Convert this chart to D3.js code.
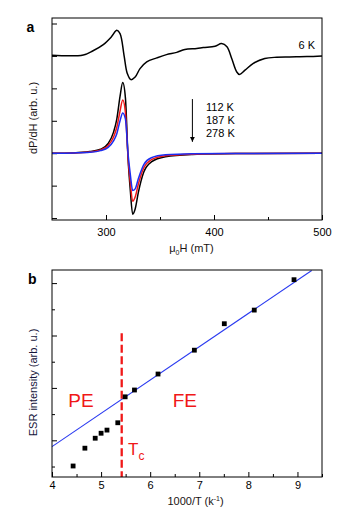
<!DOCTYPE html>
<html>
<head>
<meta charset="utf-8">
<script src="https://cdn.jsdelivr.net/npm/d3@7"></script>
<style>
  body { margin: 0; background: #fff; }
  text { font-family: "Liberation Sans", Arial, sans-serif; }
</style>
</head>
<body>
<div id="root"></div>
<script>
// panel a: 6 K spectrum
var field6 = [250, 279, 288, 297.5, 305, 310, 313, 316.7, 319.7, 323, 327, 331.5, 337.7, 347, 356, 365.5,
    373, 384, 390, 401, 407, 412, 416.4, 421, 423.5, 428.7, 436.4, 447, 458, 470, 486, 500];
var signal6 = [5.02, 5.03, 5.16, 5.35, 5.59, 5.79, 5.69, 5.02, 4.46, 4.27, 4.35, 4.61, 4.82, 4.94, 5.04, 5.11,
    5.20, 5.23, 5.26, 5.30, 5.38, 5.28, 4.92, 4.51, 4.43, 4.56, 4.77, 4.92, 4.96, 4.97, 4.98, 5.00];

// panel a: high temperature spectra
var fieldT = [250, 270, 285, 295, 302, 307, 310, 313, 315.5, 318, 320.5, 322.5, 324.7, 327, 330, 335, 342, 355, 380, 420, 500];
var sig112 = [2.00, 2.01, 2.05, 2.12, 2.30, 2.65, 3.05, 3.75, 4.18, 3.70, 1.79, 0.86, 0.12, 0.28, 0.80, 1.42, 1.73, 1.89, 1.96, 1.99, 2.00];
var sig187 = [2.00, 2.01, 2.04, 2.10, 2.24, 2.50, 2.80, 3.30, 3.64, 3.25, 1.82, 1.10, 0.52, 0.65, 1.05, 1.55, 1.80, 1.92, 1.97, 1.99, 2.00];
var sig278 = [2.00, 2.01, 2.03, 2.08, 2.18, 2.38, 2.60, 3.00, 3.24, 3.05, 1.95, 1.35, 0.85, 0.90, 1.22, 1.65, 1.86, 1.95, 1.98, 1.99, 2.00];
var tempLabels = ["112 K", "187 K", "278 K"];
var tempColors = ["#000000", "#f01818", "#1c2cf0"];
var hTicks = [300, 400, 500];
var hMinor = [350, 450];

// panel b: ESR intensity vs 1000/T
var invT = [4.43, 4.67, 4.88, 5.0, 5.12, 5.34, 5.49, 5.68, 6.16, 6.9, 7.51, 8.12, 8.93];
var esr = [1.02, 1.70, 2.08, 2.27, 2.39, 2.67, 3.66, 3.92, 4.53, 5.44, 6.45, 6.97, 8.13];
var fitX = [4, 9.29];
var fitY = [1.76, 8.48];
var tcX = 5.42, tcTop = 6.09;
var invTicks = [4, 5, 6, 7, 8, 9];
var invMinor = [4.5, 5.5, 6.5, 7.5, 8.5, 9.5];

var svg = d3.select("#root")
    .append("svg")
    .attr("width", 351)
    .attr("height", 520);

var left = 52, right = 322;
var red = "#f01818";

// ---------- panel a ----------
var xa = d3.scaleLinear().domain([250, 500]).range([left, right]);
var ya = d3.scaleLinear().domain([-0.06, 6.17]).range([220, 18]);

svg.append("g")
    .attr("transform", "translate(0,220)")
    .call(d3.axisBottom(xa).tickValues(hTicks).tickSizeInner(-5).tickSizeOuter(0).tickPadding(7.7))
    .call(function (g) { g.select(".domain").remove(); })
    .selectAll("text").attr("font-size", 11).attr("font-family", null);

svg.append("g")
    .attr("transform", "translate(0,220)")
    .call(d3.axisBottom(xa).tickValues(hMinor).tickSizeInner(-3).tickSizeOuter(0).tickFormat(""))
    .call(function (g) { g.select(".domain").remove(); });

svg.append("g")
    .attr("transform", "translate(" + left + ",0)")
    .call(d3.axisLeft(ya).tickValues([0, 1, 2, 3, 4, 5, 6]).tickSizeInner(-5).tickSizeOuter(0).tickFormat(""))
    .call(function (g) { g.select(".domain").remove(); });

var lineA = d3.line()
    .x(function (d) { return xa(d[0]); })
    .y(function (d) { return ya(d[1]); })
    .curve(d3.curveMonotoneX);

svg.append("path")
    .attr("d", lineA.curve(d3.curveCatmullRom)(field6.map(function (h, i) { return [h, signal6[i]]; })))
    .attr("fill", "none")
    .attr("stroke", "#000")
    .attr("stroke-width", 1.5);

lineA.curve(d3.curveMonotoneX);
[sig112, sig187, sig278].forEach(function (s, k) {
    svg.append("path")
        .attr("d", lineA(fieldT.map(function (h, i) { return [h, s[i]]; })))
        .attr("fill", "none")
        .attr("stroke", tempColors[k])
        .attr("stroke-width", 1.5);
});

svg.append("rect")
    .attr("x", left).attr("y", 18)
    .attr("width", right - left).attr("height", 202)
    .attr("fill", "none").attr("stroke", "#000").attr("stroke-width", 1);

svg.append("text")
    .attr("x", xa(486)).attr("y", 48.7)
    .attr("font-size", 11).attr("text-anchor", "middle")
    .text("6 K");

// arrow
svg.append("defs").append("marker")
    .attr("id", "arr")
    .attr("viewBox", "0 0 10 10")
    .attr("refX", 10).attr("refY", 5)
    .attr("markerWidth", 5).attr("markerHeight", 6)
    .attr("markerUnits", "userSpaceOnUse")
    .attr("orient", "auto")
    .append("path").attr("d", "M0,0L10,5L0,10Z").attr("fill", "#000");

svg.append("line")
    .attr("x1", xa(380)).attr("x2", xa(380))
    .attr("y1", ya(3.67)).attr("y2", ya(2.35))
    .attr("stroke", "#000").attr("stroke-width", 1)
    .attr("marker-end", "url(#arr)");

svg.append("g").selectAll("text")
    .data(tempLabels)
    .enter().append("text")
    .attr("x", 206)
    .attr("y", function (d, i) { return 111 + i * 13; })
    .attr("font-size", 11)
    .text(function (d) { return d; });

var ta = svg.append("text")
    .attr("x", 191.5).attr("y", 252.3)
    .attr("font-size", 11).attr("text-anchor", "middle").attr("fill", "#1a1414");
ta.append("tspan").text("μ");
ta.append("tspan").attr("font-size", 7).attr("dy", 2.5).text("0");
ta.append("tspan").attr("dy", -2.5).text("H (mT)");

svg.append("text")
    .attr("transform", "translate(36.5,118) rotate(-90)")
    .attr("font-size", 11).attr("text-anchor", "middle").attr("fill", "#1a1414")
    .text("dP/dH (arb. u.)");

svg.append("text")
    .attr("x", 26.5).attr("y", 31.7)
    .attr("font-size", 14).attr("font-weight", "bold")
    .text("a");

// ---------- panel b ----------
var xb = d3.scaleLinear().domain([4, 9.5]).range([left, right]);
var yb = d3.scaleLinear().domain([0.6, 8.5]).range([477, 270]);

svg.append("g")
    .attr("transform", "translate(0,477)")
    .call(d3.axisBottom(xb).tickValues(invTicks).tickFormat(d3.format("d")).tickSizeInner(-5).tickSizeOuter(0).tickPadding(3.7))
    .call(function (g) { g.select(".domain").remove(); })
    .selectAll("text").attr("font-size", 11).attr("font-family", null);

svg.append("g")
    .attr("transform", "translate(0,477)")
    .call(d3.axisBottom(xb).tickValues(invMinor).tickSizeInner(-3).tickSizeOuter(0).tickFormat(""))
    .call(function (g) { g.select(".domain").remove(); });

svg.append("g")
    .attr("transform", "translate(" + left + ",0)")
    .call(d3.axisLeft(yb).tickValues([2, 4, 6, 8]).tickSizeInner(-5).tickSizeOuter(0).tickFormat(""))
    .call(function (g) { g.select(".domain").remove(); });

svg.append("g")
    .attr("transform", "translate(" + left + ",0)")
    .call(d3.axisLeft(yb).tickValues([1, 3, 5, 7]).tickSizeInner(-3).tickSizeOuter(0).tickFormat(""))
    .call(function (g) { g.select(".domain").remove(); });

svg.append("line")
    .attr("x1", xb(fitX[0])).attr("y1", yb(fitY[0]))
    .attr("x2", xb(fitX[1])).attr("y2", yb(fitY[1]))
    .attr("stroke", "#2a3af0").attr("stroke-width", 1.1);

svg.append("line")
    .attr("x1", xb(tcX)).attr("x2", xb(tcX))
    .attr("y1", yb(tcTop)).attr("y2", 477)
    .attr("stroke", red).attr("stroke-width", 2.3)
    .attr("stroke-dasharray", "8,3.5");

svg.append("g").selectAll("rect")
    .data(invT)
    .enter().append("rect")
    .attr("x", function (d) { return xb(d) - 2.4; })
    .attr("y", function (d, i) { return yb(esr[i]) - 2.4; })
    .attr("width", 4.8)
    .attr("height", 4.8)
    .attr("fill", "#000");

svg.append("rect")
    .attr("x", left).attr("y", 270)
    .attr("width", right - left).attr("height", 207)
    .attr("fill", "none").attr("stroke", "#000").attr("stroke-width", 1);

svg.append("text")
    .attr("x", 68.3).attr("y", 407.3)
    .attr("font-size", 19).attr("fill", red)
    .text("PE");

svg.append("text")
    .attr("x", 172.7).attr("y", 407.3)
    .attr("font-size", 19).attr("fill", red)
    .text("FE");

var tc = svg.append("text")
    .attr("x", 128).attr("y", 455)
    .attr("font-size", 17).attr("fill", red);
tc.append("tspan").text("T");
tc.append("tspan").attr("font-size", 12).attr("dy", 5).text("c");

var tb = svg.append("text")
    .attr("x", 195.5).attr("y", 505)
    .attr("font-size", 11).attr("text-anchor", "middle").attr("fill", "#1a1414");
tb.append("tspan").text("1000/T (k");
tb.append("tspan").attr("font-size", 7).attr("dy", -4).text("-1");
tb.append("tspan").attr("dy", 4).text(")");

svg.append("text")
    .attr("transform", "translate(37,382.5) rotate(-90)")
    .attr("font-size", 11).attr("text-anchor", "middle").attr("fill", "#14143a")
    .text("ESR intensity (arb. u.)");

svg.append("text")
    .attr("x", 28).attr("y", 284)
    .attr("font-size", 14).attr("font-weight", "bold")
    .text("b");
</script>
</body>
</html>
